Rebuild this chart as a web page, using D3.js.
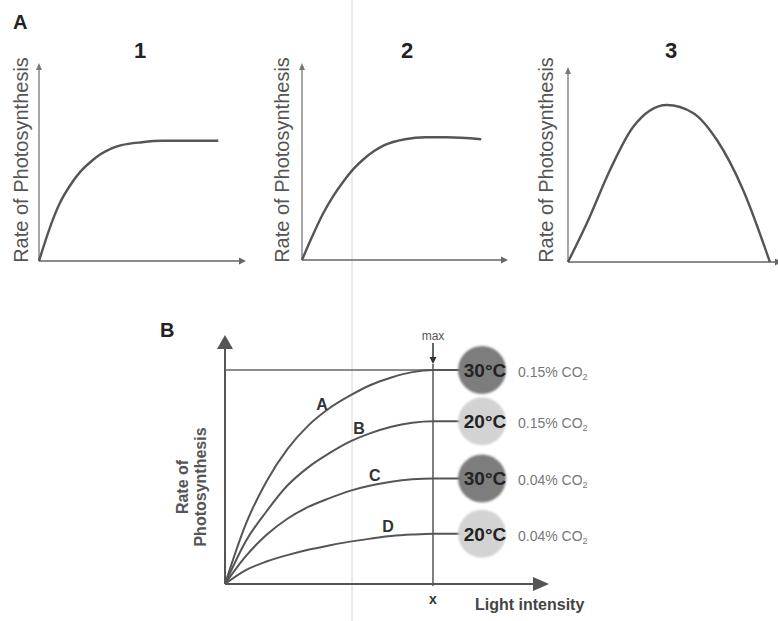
<!DOCTYPE html>
<html>
<head>
<meta charset="utf-8">
<script src="https://cdn.jsdelivr.net/npm/d3@7"></script>
<style>
  body { margin: 0; background: #fff; }
  svg { display: block; }
  text { font-family: "Liberation Sans", Arial, sans-serif; }
</style>
</head>
<body>
<div id="chart"></div>
<script>
// panel A: three small curves (x = factor, y = rate)
var panelTitles = ["1", "2", "3"]
var curve1 = [[0, 0], [0.5, 1.6], [1, 2.9], [1.5, 3.8], [2, 4.5], [2.5, 5.0], [3, 5.4], [3.5, 5.68], [4, 5.85], [5, 6.0], [6, 6.07], [8.7, 6.07]]
var curve2 = [[0, 0], [0.5, 1.2], [1, 2.3], [1.5, 3.2], [2, 3.95], [2.5, 4.6], [3, 5.1], [3.5, 5.5], [4, 5.8], [5, 6.1], [6, 6.2], [7, 6.2], [8.7, 6.1]]
var curve3 = [[0, 0], [0.92, 1.97], [2.04, 4.65], [3.16, 6.82], [4.8, 7.93], [6.07, 7.53], [7.23, 6.16], [8.5, 3.64], [9.8, 0]]

// panel B: light intensity vs rate, four conditions
var lightA = [[0, 0], [1, 28], [2, 48], [3, 63], [4, 74], [5, 82], [6, 88], [7, 93], [8, 96.5], [9, 99], [10, 100], [11.2, 100]]
var lightB = [[0, 0], [1, 20], [2, 34], [3, 46], [4, 54.5], [5, 61], [6, 66.5], [7, 70.5], [8, 73.5], [9, 75.3], [10, 76], [11.2, 76]]
var lightC = [[0, 0], [1, 13], [2, 23], [3, 30.5], [4, 36], [5, 40], [6, 43.5], [7, 46], [8, 47.8], [9, 48.9], [10, 49.3], [11.2, 49.3]]
var lightD = [[0, 0], [1, 6.5], [2, 10.5], [3, 13.5], [4, 16], [5, 18], [6, 19.8], [7, 21.2], [8, 22.4], [9, 23.1], [10, 23.5], [11.2, 23.5]]
var seriesLabels = ["A", "B", "C", "D"]
var labelAt = [4.66, 6.44, 7.2, 7.84]
var temps = ["30°C", "20°C", "30°C", "20°C"]
var co2 = ["0.15%", "0.15%", "0.04%", "0.04%"]
var maxLight = 10
var maxRate = 100

var width = 778
var height = 621

var svg = d3.select("#chart")
  .append("svg")
  .attr("width", width)
  .attr("height", height)

var defs = svg.append("defs")
defs.append("filter").attr("id", "soft")
  .append("feGaussianBlur").attr("stdDeviation", 1.3)

function arrowHead(g, x, y, dir, len, half, color) {
  var pts
  if (dir == "up") pts = [[x, y], [x - half, y + len], [x + half, y + len]]
  else if (dir == "down") pts = [[x, y], [x - half, y - len], [x + half, y - len]]
  else pts = [[x, y], [x - len, y - half], [x - len, y + half]]
  g.append("path").attr("d", "M" + pts.join("L") + "Z").attr("fill", color)
}

// faint scan line that runs through the whole picture
svg.append("line")
  .attr("x1", 352).attr("x2", 352).attr("y1", 0).attr("y2", height)
  .attr("stroke", "#d6d6d6").attr("stroke-width", 1)

svg.append("text").attr("x", 13).attr("y", 29)
  .attr("font-size", 20).attr("font-weight", "bold").attr("fill", "#222").text("A")

// ---- panel A ----
var panels = [
  { ox: 39, oy: 261, xEnd: 246, yTop: 63, curve: curve1, labelX: 28, titleX: 140 },
  { ox: 302, oy: 260, xEnd: 508, yTop: 63, curve: curve2, labelX: 289, titleX: 407 },
  { ox: 568, oy: 262, xEnd: 782, yTop: 67, curve: curve3, labelX: 553, titleX: 671 }
]

panels.forEach(function (p, i) {
  var g = svg.append("g")
  var x = d3.scaleLinear().domain([0, 10]).range([p.ox, p.ox + 206])
  var y = d3.scaleLinear().domain([0, 10]).range([p.oy, p.oy - 198])

  g.append("line").attr("x1", p.ox).attr("x2", p.xEnd - 4).attr("y1", p.oy).attr("y2", p.oy)
    .attr("stroke", "#666").attr("stroke-width", 1.6)
  g.append("line").attr("x1", p.ox).attr("x2", p.ox).attr("y1", p.oy).attr("y2", p.yTop + 4)
    .attr("stroke", "#777").attr("stroke-width", 1.3)
  arrowHead(g, p.xEnd, p.oy, "right", 7, 3.5, "#666")
  arrowHead(g, p.ox, p.yTop, "up", 7, 3, "#777")

  var line = d3.line()
    .x(function (d) { return x(d[0]) })
    .y(function (d) { return y(d[1]) })
    .curve(d3.curveMonotoneX)

  g.append("path").datum(p.curve)
    .attr("d", line)
    .attr("fill", "none")
    .attr("stroke", "#555")
    .attr("stroke-width", 2.4)

  g.append("text")
    .attr("x", p.titleX).attr("y", 58)
    .attr("text-anchor", "middle")
    .attr("font-size", 22).attr("font-weight", "bold").attr("fill", "#222")
    .text(panelTitles[i])

  g.append("text")
    .attr("transform", "translate(" + p.labelX + "," + 160 + ") rotate(-90)")
    .attr("text-anchor", "middle")
    .attr("font-size", 20).attr("fill", "#555")
    .text("Rate of Photosynthesis")
})

// ---- panel B ----
var ox = 225, oy = 584
var xB = d3.scaleLinear().domain([0, maxLight]).range([ox, 433])
var yB = d3.scaleLinear().domain([0, maxRate]).range([oy, 370])
var gB = svg.append("g")
var axisColor = "#555"

gB.append("text").attr("x", 160).attr("y", 337)
  .attr("font-size", 20).attr("font-weight", "bold").attr("fill", "#222").text("B")

// axes with big arrows
gB.append("line").attr("x1", ox).attr("x2", ox).attr("y1", oy).attr("y2", 346)
  .attr("stroke", axisColor).attr("stroke-width", 2)
arrowHead(gB, ox, 335, "up", 14, 8, axisColor)
gB.append("line").attr("x1", ox).attr("x2", 536).attr("y1", oy).attr("y2", oy)
  .attr("stroke", axisColor).attr("stroke-width", 2)
arrowHead(gB, 549, oy, "right", 16, 7, axisColor)

// max light marker
gB.append("line").attr("x1", xB(maxLight)).attr("x2", xB(maxLight)).attr("y1", 364).attr("y2", oy + 2)
  .attr("stroke", "#555").attr("stroke-width", 1.5)
gB.append("line").attr("x1", xB(maxLight)).attr("x2", xB(maxLight)).attr("y1", 343).attr("y2", 357)
  .attr("stroke", "#333").attr("stroke-width", 1.5)
arrowHead(gB, xB(maxLight), 364, "down", 7, 3.5, "#333")
gB.append("text").attr("x", xB(maxLight)).attr("y", 340)
  .attr("text-anchor", "middle").attr("font-size", 12).attr("fill", "#555").text("max")
gB.append("text").attr("x", xB(maxLight)).attr("y", 604)
  .attr("text-anchor", "middle").attr("font-size", 14).attr("font-weight", "bold").attr("fill", "#333").text("x")

// horizontal line at the max rate
gB.append("line").attr("x1", ox).attr("x2", 460).attr("y1", yB(maxRate)).attr("y2", yB(maxRate))
  .attr("stroke", "#666").attr("stroke-width", 1.6)

var lineB = d3.line()
  .x(function (d) { return xB(d[0]) })
  .y(function (d) { return yB(d[1]) })
  .curve(d3.curveMonotoneX)

var series = [lightA, lightB, lightC, lightD]

function valueAt(data, xv) {
  for (var k = 1; k < data.length; k++) {
    if (xv <= data[k][0]) {
      var t = (xv - data[k - 1][0]) / (data[k][0] - data[k - 1][0])
      return data[k - 1][1] + t * (data[k][1] - data[k - 1][1])
    }
  }
  return data[data.length - 1][1]
}

series.forEach(function (s, i) {
  var last = s[s.length - 1]
  gB.append("path").datum(s)
    .attr("d", lineB)
    .attr("fill", "none")
    .attr("stroke", "#555")
    .attr("stroke-width", 2)
  gB.append("line")
    .attr("x1", xB(last[0])).attr("x2", 462)
    .attr("y1", yB(last[1])).attr("y2", yB(last[1]))
    .attr("stroke", "#555").attr("stroke-width", 2)

  gB.append("text")
    .attr("x", xB(labelAt[i]))
    .attr("y", yB(valueAt(s, labelAt[i])) - 4)
    .attr("text-anchor", "middle")
    .attr("font-size", 16).attr("font-weight", "bold").attr("fill", "#333")
    .text(seriesLabels[i])

  var cy = yB(last[1])
  var hot = temps[i] == "30°C"
  gB.append("circle")
    .attr("cx", 482).attr("cy", cy).attr("r", 24)
    .attr("fill", hot ? "#7d7d7d" : "#d3d3d3")
    .attr("filter", "url(#soft)")
  gB.append("text")
    .attr("x", 485).attr("y", cy + 7)
    .attr("text-anchor", "middle")
    .attr("font-size", 19).attr("font-weight", "bold").attr("fill", "#222")
    .text(temps[i])

  var t = gB.append("text")
    .attr("x", 518).attr("y", cy + 7)
    .attr("font-size", 14).attr("fill", "#777")
  t.append("tspan").text(co2[i] + " CO")
  t.append("tspan").attr("font-size", 9).attr("dy", 3).text("2")
})

gB.append("text")
  .attr("transform", "translate(188,487) rotate(-90)")
  .attr("text-anchor", "middle")
  .attr("font-size", 16).attr("font-weight", "bold").attr("fill", "#555")
  .text("Rate of")
gB.append("text")
  .attr("transform", "translate(206,487) rotate(-90)")
  .attr("text-anchor", "middle")
  .attr("font-size", 16).attr("font-weight", "bold").attr("fill", "#555")
  .text("Photosynthesis")

gB.append("text")
  .attr("x", 475).attr("y", 610)
  .attr("font-size", 16).attr("font-weight", "bold").attr("fill", "#444")
  .text("Light intensity")
</script>
</body>
</html>
